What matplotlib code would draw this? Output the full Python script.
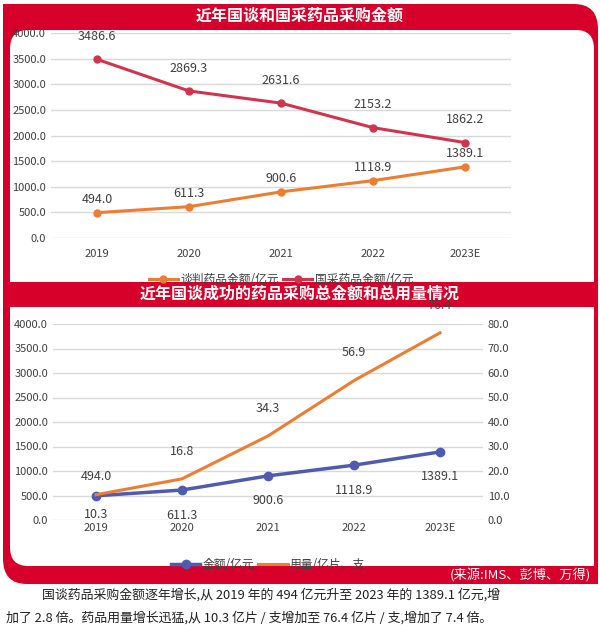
import matplotlib.pyplot as plt
from matplotlib.patches import FancyBboxPatch, Rectangle

plt.rcParams["font.family"] = ["Noto Sans CJK JP", "Noto Sans CJK SC", "DejaVu Sans"]

years = ["2019", "2020", "2021", "2022", "2023E"]
nego_amount = [494.0, 611.3, 900.6, 1118.9, 1389.1]
vbp_amount = [3486.6, 2869.3, 2631.6, 2153.2, 1862.2]
volume = [10.3, 16.8, 34.3, 56.9, 76.4]

RED = "#d7002a"
ORANGE = "#ed7d31"
ROSE = "#d2344f"
BLUE = "#4f5bb0"
GRID = "#d9d9d9"
TXT = "#404040"

fig = plt.figure(figsize=(6, 6.3), dpi=100)
H = 630.0


def fy(p):
    return 1 - p / H


# red frame and white panels
fig.patches.append(FancyBboxPatch((3 / 600, fy(584)), 595 / 600, (584 - 4) / H,
                                  boxstyle="round,pad=0,rounding_size=0.04",
                                  transform=fig.transFigure, fc=RED, ec="none"))
fig.patches.append(Rectangle((3 / 600, fy(120)), 100 / 600, 116 / H,
                             transform=fig.transFigure, fc=RED, ec="none"))
fig.patches.append(Rectangle((500 / 600, fy(584)), 98 / 600, 100 / H,
                             transform=fig.transFigure, fc=RED, ec="none"))
fig.patches.append(FancyBboxPatch((10 / 600, fy(282)), 584 / 600, (282 - 30) / H,
                                  boxstyle="round,pad=0,rounding_size=0.03",
                                  transform=fig.transFigure, fc="white", ec="none"))
fig.patches.append(Rectangle((10 / 600, fy(282)), 560 / 600, 200 / H,
                             transform=fig.transFigure, fc="white", ec="none"))
fig.patches.append(Rectangle((10 / 600, fy(282)), 584 / 600, 120 / H,
                             transform=fig.transFigure, fc="white", ec="none"))
fig.patches.append(FancyBboxPatch((10 / 600, fy(566)), 584 / 600, (566 - 307) / H,
                                  boxstyle="round,pad=0,rounding_size=0.03",
                                  transform=fig.transFigure, fc="white", ec="none"))
fig.patches.append(Rectangle((40 / 600, fy(566)), 554 / 600, (566 - 307) / H,
                             transform=fig.transFigure, fc="white", ec="none"))
fig.patches.append(Rectangle((10 / 600, fy(480)), 584 / 600, (480 - 307) / H,
                             transform=fig.transFigure, fc="white", ec="none"))

fig.text(0.5, fy(16), "近年国谈和国采药品采购金额", color="white", fontsize=11.5,
         fontweight="bold", ha="center", va="center")
fig.text(0.5, fy(294), "近年国谈成功的药品采购总金额和总用量情况", color="white",
         fontsize=11.5, fontweight="bold", ha="center", va="center")
fig.text(0.985, fy(575), "(来源:IMS、彭博、万得)", color="white", fontsize=9.5,
         ha="right", va="center")
fig.text(0.07, fy(595), "国谈药品采购金额逐年增长,从 2019 年的 494 亿元升至 2023 年的 1389.1 亿元,增",
         fontsize=9.3, va="center", color="#222")
fig.text(0.01, fy(618), "加了 2.8 倍。药品用量增长迅猛,从 10.3 亿片 / 支增加至 76.4 亿片 / 支,增加了 7.4 倍。",
         fontsize=9.3, va="center", color="#222")

x = list(range(len(years)))


def style(ax):
    ax.set_zorder(5)
    ax.set_facecolor("none")
    for s in ax.spines.values():
        s.set_visible(False)
    ax.grid(axis="y", color=GRID, lw=1)
    ax.set_axisbelow(True)
    ax.tick_params(length=0, labelsize=8, colors=TXT)
    ax.set_xticks(x, years)
    ax.set_xlim(-0.5, 4.5)
    ax.set_ylim(0, 4000)
    ax.set_yticks(range(0, 4001, 500))
    ax.set_yticklabels([f"{v:.1f}" for v in range(0, 4001, 500)])


# panel 1
ax1 = fig.add_axes([51 / 600, fy(238), 460 / 600, (238 - 33) / H])
style(ax1)
ax1.tick_params(axis="x", pad=8)
ax1.plot(x, nego_amount, color=ORANGE, lw=2.2, marker="o", ms=5, label="谈判药品金额/亿元")
ax1.plot(x, vbp_amount, color=ROSE, lw=2.2, marker="o", ms=5, label="国采药品金额/亿元")
for i in x:
    ax1.annotate(f"{nego_amount[i]:.1f}", (i, nego_amount[i]), xytext=(0, 7),
                 textcoords="offset points", ha="center", fontsize=9, color=TXT)
    ax1.annotate(f"{vbp_amount[i]:.1f}", (i, vbp_amount[i]), xytext=(0, 14),
                 textcoords="offset points", ha="center", fontsize=9, color=TXT)
ax1.legend(loc="upper center", bbox_to_anchor=(0.5, -0.12), ncol=2, frameon=False,
           fontsize=8.5, handlelength=2.5, columnspacing=0.3, handletextpad=0.2,
           labelcolor=TXT)

# panel 2
ax2 = fig.add_axes([53 / 600, fy(520), 430 / 600, (520 - 324) / H])
style(ax2)
ax2.tick_params(axis="x", pad=2)
l1, = ax2.plot(x, nego_amount, color=BLUE, lw=2.5, marker="o", ms=6, label="金额/亿元")
ax3 = ax2.twinx()
ax3.set_zorder(6)
ax3.set_facecolor("none")
for s in ax3.spines.values():
    s.set_visible(False)
ax3.set_ylim(0, 80)
ax3.set_yticks(range(0, 81, 10))
ax3.set_yticklabels([f"{v:.1f}" for v in range(0, 81, 10)])
ax3.tick_params(length=0, labelsize=8, colors=TXT)
l2, = ax3.plot(x, volume, color=ORANGE, lw=2.2, label="用量/亿片、支")
for i in x:
    ax2.annotate(f"{nego_amount[i]:.1f}", (i, nego_amount[i]),
                 xytext=(0, 14 if i == 0 else -18), textcoords="offset points",
                 ha="center", va="center", fontsize=9, color=TXT)
    ax3.annotate(f"{volume[i]:.1f}", (i, volume[i]),
                 xytext=(0, -14 if i == 0 else 20), textcoords="offset points",
                 ha="center", va="center", fontsize=9, color=TXT)
ax3.legend([l1, l2], [l1.get_label(), l2.get_label()], loc="upper center",
           bbox_to_anchor=(0.5, -0.14), ncol=2, frameon=False, fontsize=8.5,
           handlelength=2.5, columnspacing=0.3, handletextpad=0.2, labelcolor=TXT)

fig.savefig("out.png", dpi=100)
